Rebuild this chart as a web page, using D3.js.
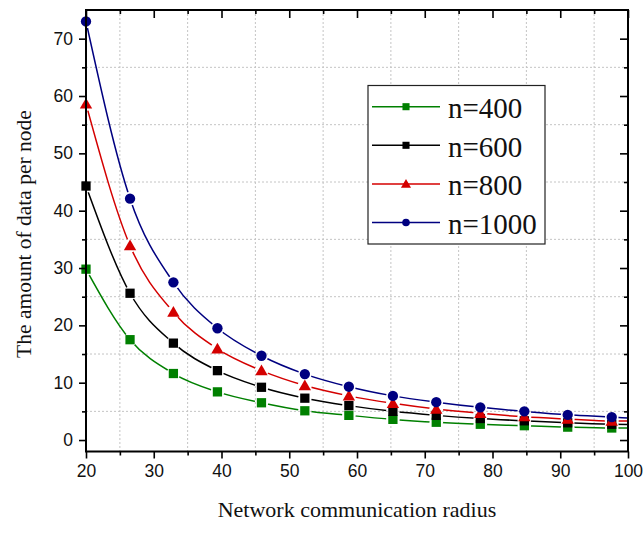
<!DOCTYPE html>
<html>
<head>
<meta charset="utf-8">
<script src="https://cdn.jsdelivr.net/npm/d3@7"></script>
<style>
  html, body { margin: 0; padding: 0; background: #fff; }
  svg { display: block; }
</style>
</head>
<body>
<svg id="chart" width="644" height="533"></svg>
<script>
// Network communication radius at which each node load was sampled
const radius = [20, 26.5, 32.9, 39.4, 45.9, 52.3, 58.8, 65.3, 71.7, 78.2, 84.7, 91.1, 97.6];

// Amount of data per node for each network size
const n400  = [29.8, 17.5, 11.6, 8.4, 6.5, 5.1, 4.3, 3.6, 3.1, 2.75, 2.5, 2.25, 2.1];
const n600  = [44.3, 25.6, 16.9, 12.1, 9.2, 7.3, 6.0, 5.0, 4.3, 3.75, 3.35, 3.0, 2.75];
const n800  = [58.6, 33.9, 22.3, 15.9, 12.1, 9.5, 7.7, 6.4, 5.4, 4.65, 4.05, 3.65, 3.3];
const n1000 = [73.0, 42.1, 27.5, 19.5, 14.7, 11.5, 9.3, 7.7, 6.6, 5.7, 5.0, 4.4, 4.0];

// Fitted curves run on to the right edge of the axis
const curveEndRadius = 100;
const curveEnd = [2.1, 2.7, 3.3, 3.85];

const seriesNames = ["n=400", "n=600", "n=800", "n=1000"];
const seriesValues = [n400, n600, n800, n1000];
const seriesColors = ["#008000", "#000000", "#d40000", "#000080"];
const seriesSymbols = ["square", "square", "triangle", "circle"];

const xTicks = [20, 30, 40, 50, 60, 70, 80, 90, 100];
const xMinor = [25, 35, 45, 55, 65, 75, 85, 95];
const yTicks = [0, 10, 20, 30, 40, 50, 60, 70];
const yMinor = [5, 15, 25, 35, 45, 55, 65];

const xTitle = "Network communication radius";
const yTitle = "The amount of data per node";

const svg = d3.select("#chart");
const L = 86, R = 628, T = 10, B = 451.5;

const x = d3.scaleLinear().domain([20, 100]).range([L, R]);
const y = d3.scaleLinear().domain([-2, 75]).range([B, T]);

// Dashed grid sits on the minor tick positions
const grid = svg.append("g").attr("stroke", "#c4c4c4").attr("stroke-width", 1)
  .attr("stroke-dasharray", "2,2").attr("fill", "none");
xMinor.forEach(v => grid.append("line")
  .attr("x1", x(v)).attr("x2", x(v)).attr("y1", T).attr("y2", B));
yMinor.forEach(v => grid.append("line")
  .attr("x1", L).attr("x2", R).attr("y1", y(v)).attr("y2", y(v)));

// Symbols
const symbolType = { square: d3.symbolSquare, triangle: d3.symbolTriangle, circle: d3.symbolCircle };
const symbolArea = { square: 86, triangle: 66, circle: 84 };
const legendArea = { square: 50, triangle: 44, circle: 46 };

const defs = svg.append("defs");
defs.append("clipPath").attr("id", "plotClip")
  .append("rect").attr("x", L).attr("y", T).attr("width", R - L).attr("height", B - T);

const lineGen = d3.line()
  .x(d => x(d[0])).y(d => y(d[1]))
  .curve(d3.curveMonotoneX);

const plot = svg.append("g").attr("clip-path", "url(#plotClip)");

seriesValues.forEach((vals, i) => {
  const pts = radius.map((r, k) => [r, vals[k]]);
  const curvePts = pts.concat([[curveEndRadius, curveEnd[i]]]);

  // Each curve breaks briefly around its own markers
  const mask = defs.append("mask").attr("id", "gap" + i)
    .attr("maskUnits", "userSpaceOnUse")
    .attr("x", 0).attr("y", 0).attr("width", 644).attr("height", 533);
  mask.append("rect").attr("x", 0).attr("y", 0).attr("width", 644).attr("height", 533).attr("fill", "#fff");
  mask.selectAll("circle").data(pts).join("circle")
    .attr("cx", d => x(d[0])).attr("cy", d => y(d[1]))
    .attr("r", seriesSymbols[i] === "triangle" ? 7 : 6.8)
    .attr("fill", "#000");

  plot.append("path")
    .attr("d", lineGen(curvePts))
    .attr("fill", "none")
    .attr("stroke", seriesColors[i])
    .attr("stroke-width", 1.5)
    .attr("mask", "url(#gap" + i + ")");
});

seriesValues.forEach((vals, i) => {
  const sym = d3.symbol().type(symbolType[seriesSymbols[i]]).size(symbolArea[seriesSymbols[i]]);
  svg.append("g").selectAll("path").data(radius.map((r, k) => [r, vals[k]])).join("path")
    .attr("d", sym)
    .attr("transform", d => `translate(${x(d[0])},${y(d[1]) + (seriesSymbols[i] === "triangle" ? 1 : 0)})`)
    .attr("fill", seriesColors[i]);
});

// Axes: outward ticks on the left and bottom, inward ticks on top and right
const tickFont = "'Liberation Sans', Arial, sans-serif";
function styleAxis(g) {
  g.select(".domain").remove();
  g.selectAll(".tick line").attr("stroke", "#000").attr("stroke-width", 1.6);
  g.selectAll("text").attr("font-family", tickFont).attr("font-size", 17.5).attr("fill", "#111");
}

svg.append("g").attr("transform", `translate(0,${B})`)
  .call(d3.axisBottom(x).tickValues(xTicks).tickSize(7).tickPadding(6).tickFormat(d3.format("d")))
  .call(styleAxis);
svg.append("g").attr("transform", `translate(0,${B})`)
  .call(d3.axisBottom(x).tickValues(xMinor).tickSize(4).tickFormat(""))
  .call(styleAxis);

svg.append("g").attr("transform", `translate(${L},0)`)
  .call(d3.axisLeft(y).tickValues(yTicks).tickSize(7).tickPadding(6).tickFormat(d3.format("d")))
  .call(styleAxis);
svg.append("g").attr("transform", `translate(${L},0)`)
  .call(d3.axisLeft(y).tickValues(yMinor).tickSize(4).tickFormat(""))
  .call(styleAxis);

svg.append("g").attr("transform", `translate(0,${T})`)
  .call(d3.axisBottom(x).tickValues(xTicks).tickSize(8).tickFormat(""))
  .call(styleAxis);
svg.append("g").attr("transform", `translate(0,${T})`)
  .call(d3.axisBottom(x).tickValues(xMinor).tickSize(4).tickFormat(""))
  .call(styleAxis);

svg.append("g").attr("transform", `translate(${R},0)`)
  .call(d3.axisLeft(y).tickValues(yTicks).tickSize(8).tickFormat(""))
  .call(styleAxis);
svg.append("g").attr("transform", `translate(${R},0)`)
  .call(d3.axisLeft(y).tickValues(yMinor).tickSize(4).tickFormat(""))
  .call(styleAxis);

// Frame
svg.append("rect").attr("x", L).attr("y", T).attr("width", R - L).attr("height", B - T)
  .attr("fill", "none").attr("stroke", "#000").attr("stroke-width", 2);

// Axis titles
const serif = "'Liberation Serif', 'Times New Roman', serif";
svg.append("text").attr("x", 357).attr("y", 517)
  .attr("text-anchor", "middle").attr("font-family", serif).attr("font-size", 22)
  .attr("fill", "#111").text(xTitle);
svg.append("text").attr("transform", `translate(31,234) rotate(-90)`)
  .attr("text-anchor", "middle").attr("font-family", serif).attr("font-size", 21.5)
  .attr("fill", "#111").text(yTitle);

// Legend
const lg = svg.append("g");
lg.append("rect").attr("x", 368).attr("y", 85.5).attr("width", 177).attr("height", 158.5)
  .attr("fill", "#fff").attr("stroke", "#222").attr("stroke-width", 1.2);
seriesNames.forEach((name, i) => {
  const cy = 106.7 + i * 38.6;
  lg.append("line").attr("x1", 372).attr("x2", 440).attr("y1", cy).attr("y2", cy)
    .attr("stroke", seriesColors[i]).attr("stroke-width", 1.5);
  lg.append("path")
    .attr("d", d3.symbol().type(symbolType[seriesSymbols[i]]).size(legendArea[seriesSymbols[i]]))
    .attr("transform", `translate(406,${cy + (seriesSymbols[i] === "triangle" ? 1 : 0)})`)
    .attr("fill", seriesColors[i]);
  lg.append("text").attr("x", 448).attr("y", cy + 11.5)
    .attr("font-family", serif).attr("font-size", 29).attr("fill", "#111").text(name);
});
</script>
</body>
</html>
